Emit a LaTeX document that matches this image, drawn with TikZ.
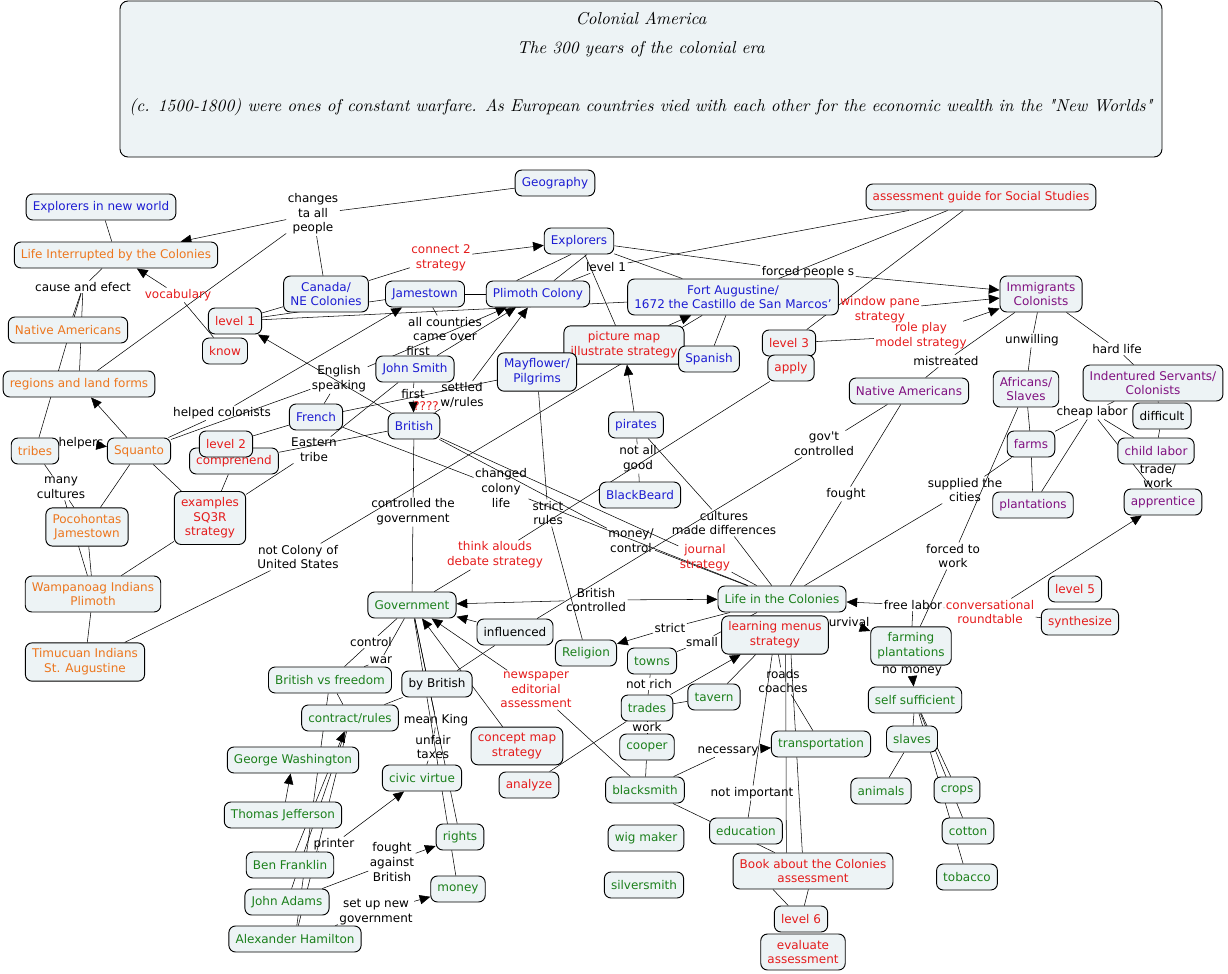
\documentclass[tikz,border=0pt]{standalone}
\usepackage{fontspec}
\newfontfamily\mapfont{DejaVu Sans}
\newfontfamily\titlefont{lmroman10-italic.otf}
\usetikzlibrary{arrows.meta,backgrounds}

\definecolor{boxfill}{RGB}{237,243,245}
\definecolor{cblue}{RGB}{28,28,210}
\definecolor{corange}{RGB}{236,118,30}
\definecolor{cred}{RGB}{228,28,28}
\definecolor{cgreen}{RGB}{28,128,28}
\definecolor{cpurple}{RGB}{128,16,128}

\tikzset{
  concept/.style={draw, line width=0.7pt, rounded corners=5pt, fill=boxfill,
    font=\mapfont\fontsize{9}{11}\selectfont, align=center,
    inner xsep=5pt, inner ysep=4.5pt, minimum height=19.5pt},
  bluebox/.style={concept, text=cblue},
  orangebox/.style={concept, text=corange},
  redbox/.style={concept, text=cred},
  greenbox/.style={concept, text=cgreen},
  purplebox/.style={concept, text=cpurple},
  plainbox/.style={concept},
  linklabel/.style={font=\mapfont\fontsize{9}{11}\selectfont, align=center, inner sep=1pt},
  redlabel/.style={linklabel, text=cred},
  titlebox/.style={draw, line width=0.7pt, rounded corners=6pt, fill=boxfill,
    minimum width=781.5pt, minimum height=117pt},
  titletext/.style={font=\titlefont\fontsize{12.9}{21.75}\selectfont, align=center, inner sep=0pt},
  arr/.style={-{Triangle[length=8pt,width=7pt]}},
}

\begin{document}
\begin{tikzpicture}[x=0.75pt,y=-0.75pt]
\useasboundingbox (0,0) rectangle (1228,974);

% title
\node[titlebox] (title) at (641,79) {};
\node[titletext] (titletxt) at (641,64) {Colonial America\\The 300 years of the colonial era\\[21.75pt](c. 1500-1800) were ones of constant warfare. As European countries vied with each other for the economic wealth in the "New Worlds"};

% linking phrases
\node[linklabel] (lchanges) at (313,214) {changes\\ta all\\people};
\node[redlabel] (lconnect) at (441,258) {connect 2\\strategy};
\node[linklabel] (lcause) at (83,287) {cause and efect};
\node[redlabel] (lvocab) at (178,295) {vocabulary};
\node[linklabel] (llevelone) at (606,267) {level 1};
\node[linklabel] (lforced) at (808,272) {forced people s};
\node[redlabel] (lwindow) at (880,310) {window pane\\strategy};
\node[redlabel] (lrole) at (921,336) {role play\\model strategy};
\node[linklabel] (lallc) at (445,329) {all countries\\came over};
\node[linklabel] (lfirsta) at (418,351) {first};
\node[linklabel] (lenglish) at (339,379) {English\\speaking};
\node[linklabel] (lhelped) at (222,413) {helped colonists};
\node[linklabel] (lfirstb) at (413,394) {first};
\node[linklabel] (lsettled) at (462,395) {settled\\w/rules};
\node[redlabel] (lquery) at (426,406) {????};
\node[linklabel] (lmistreat) at (946,361) {mistreated};
\node[linklabel] (lunwill) at (1032,340) {unwilling};
\node[linklabel] (lhard) at (1117,349) {hard life};
\node[linklabel] (lcheap) at (1092,412) {cheap labor};
\node[linklabel] (ltrade) at (1158,476) {trade/\\work};
\node[linklabel] (lsupplied) at (965,490) {supplied the\\cities};
\node[linklabel] (lforcedw) at (953,556) {forced to\\work};
\node[linklabel] (lhelpers) at (81,443) {helpers};
\node[linklabel] (leastern) at (314,450) {Eastern\\tribe};
\node[linklabel] (lmany) at (61,488) {many\\cultures};
\node[linklabel] (lgov) at (824,444) {gov't\\controlled};
\node[linklabel] (lnotall) at (638,459) {not all\\good};
\node[linklabel] (lchanged) at (501,488) {changed\\colony\\life};
\node[linklabel] (lstrict) at (548,513) {strict\\rules};
\node[linklabel] (lcontrolled) at (413,512) {controlled the\\government};
\node[linklabel] (lfought) at (846,494) {fought};
\node[linklabel] (lcultures) at (724,523) {cultures\\made differences};
\node[linklabel] (lmoneyc) at (631,541) {money/\\control};
\node[linklabel] (lnotcol) at (298,557) {not Colony of\\United States};
\node[redlabel] (lthink) at (495,555) {think alouds\\debate strategy};
\node[redlabel] (ljournal) at (705,558) {journal\\strategy};
\node[linklabel] (lbritc) at (596,600) {British\\controlled};
\node[linklabel] (lfree) at (913,605) {free labor};
\node[redlabel] (lconv) at (990,612) {conversational\\roundtable};
\node[linklabel] (lsurvival) at (846,622) {survival};
\node[linklabel] (lstrictb) at (670,628) {strict};
\node[linklabel] (lsmall) at (702,642) {small};
\node[linklabel] (lcontrol) at (371,642) {control};
\node[linklabel] (lwar) at (381,660) {war};
\node[redlabel] (lnews) at (536,690) {newspaper\\editorial\\assessment};
\node[linklabel] (lnomoney) at (912,671) {no money};
\node[linklabel] (lnotrich) at (649,684) {not rich};
\node[linklabel] (lroads) at (783,681) {roads\\coaches};
\node[linklabel] (lmeanking) at (436,720) {mean King};
\node[linklabel] (lunfair) at (433,747) {unfair\\taxes};
\node[linklabel] (lwork) at (647,727) {work};
\node[linklabel] (lnecessary) at (728,751) {necessary};
\node[linklabel] (lnotimp) at (752,793) {not important};
\node[linklabel] (lprinter) at (334,844) {printer};
\node[linklabel] (lfoughtb) at (392,862) {fought\\against\\British};
\node[linklabel] (lsetup) at (376,912) {set up new\\government};

% concepts
\node[bluebox] (geo) at (555,183) {Geography};
\node[bluebox] (expnw) at (101,207) {Explorers in new world};
\node[orangebox] (lifeint) at (116,255) {Life Interrupted by the Colonies};
\node[redbox] (assess) at (981,197) {assessment guide for Social Studies};
\node[bluebox] (explorers) at (579,241) {Explorers};
\node[bluebox] (canada) at (326,294) {Canada/\\NE Colonies};
\node[bluebox] (jamestown) at (425,294) {Jamestown};
\node[bluebox] (plimoth) at (538,294) {Plimoth Colony};
\node[bluebox] (fort) at (733,297) {Fort Augustine/\\1672 the Castillo de San Marcos’};
\node[purplebox] (immig) at (1041,294) {Immigrants\\Colonists};
\node[redbox] (lvlone) at (235,321) {level 1};
\node[redbox] (know) at (225,351) {know};
\node[orangebox] (natam) at (68,330) {Native Americans};
\node[orangebox] (regions) at (79,384) {regions and land forms};
\node[redbox] (picmap) at (624,345) {picture map\\illustrate strategy};
\node[bluebox] (spanish) at (709,359) {Spanish};
\node[redbox] (lvlthree) at (789,343) {level 3};
\node[redbox] (apply) at (791,368) {apply};
\node[bluebox] (smith) at (415,369) {John Smith};
\node[bluebox] (mayflower) at (537,372) {Mayflower/\\Pilgrims};
\node[purplebox] (natamp) at (909,391) {Native Americans};
\node[purplebox] (africans) at (1026,389) {Africans/\\Slaves};
\node[purplebox] (indent) at (1153,383) {Indentured Servants/\\Colonists};
\node[bluebox] (french) at (316,417) {French};
\node[bluebox] (british) at (414,426) {British};
\node[bluebox] (pirates) at (636,425) {pirates};
\node[plainbox] (difficult) at (1162,416) {difficult};
\node[orangebox] (tribes) at (35,451) {tribes};
\node[orangebox] (squanto) at (139,451) {Squanto};
\node[redbox] (comprehend) at (234,461) {comprehend};
\node[redbox] (lvltwo) at (226,444) {level 2};
\node[purplebox] (farms) at (1031,444) {farms};
\node[purplebox] (childlab) at (1156,451) {child labor};
\node[bluebox] (blackbeard) at (640,495) {BlackBeard};
\node[purplebox] (plantations) at (1033,505) {plantations};
\node[purplebox] (apprentice) at (1163,502) {apprentice};
\node[redbox] (sqthree) at (210,518) {examples\\SQ3R\\strategy};
\node[orangebox] (pocohontas) at (87,527) {Pocohontas\\Jamestown};
\node[orangebox] (wampanoag) at (93,594) {Wampanoag Indians\\Plimoth};
\node[orangebox] (timucuan) at (85,662) {Timucuan Indians\\St. Augustine};
\node[greenbox] (govt) at (412,605) {Government};
\node[greenbox] (lifecol) at (782,599) {Life in the Colonies};
\node[redbox] (lvlfive) at (1075,589) {level 5};
\node[redbox] (synth) at (1080,622) {synthesize};
\node[plainbox] (influenced) at (515,632) {influenced};
\node[greenbox] (religion) at (586,653) {Religion};
\node[redbox] (menus) at (775,635) {learning menus\\strategy};
\node[greenbox] (farming) at (911,646) {farming\\plantations};
\node[greenbox] (towns) at (652,661) {towns};
\node[greenbox] (bvf) at (330,680) {British vs freedom};
\node[plainbox] (bybrit) at (437,684) {by British};
\node[greenbox] (selfsuff) at (915,700) {self sufficient};
\node[greenbox] (tavern) at (714,697) {tavern};
\node[greenbox] (trades) at (647,708) {trades};
\node[greenbox] (contract) at (350,718) {contract/rules};
\node[redbox] (conceptmap) at (517,746) {concept map\\strategy};
\node[greenbox] (slaves) at (912,739) {slaves};
\node[greenbox] (cooper) at (647,747) {cooper};
\node[greenbox] (transport) at (821,744) {transportation};
\node[greenbox] (washington) at (293,760) {George Washington};
\node[greenbox] (civic) at (422,778) {civic virtue};
\node[redbox] (analyze) at (529,785) {analyze};
\node[greenbox] (blacksmith) at (645,790) {blacksmith};
\node[greenbox] (animals) at (881,791) {animals};
\node[greenbox] (crops) at (957,790) {crops};
\node[greenbox] (jefferson) at (283,815) {Thomas Jefferson};
\node[greenbox] (rights) at (460,837) {rights};
\node[greenbox] (education) at (746,831) {education};
\node[greenbox] (cotton) at (968,831) {cotton};
\node[greenbox] (wigmaker) at (646,838) {wig maker};
\node[greenbox] (franklin) at (290,865) {Ben Franklin};
\node[redbox] (book) at (813,871) {Book about the Colonies\\assessment};
\node[greenbox] (tobacco) at (967,877) {tobacco};
\node[greenbox] (money) at (458,889) {money};
\node[greenbox] (silversmith) at (644,885) {silversmith};
\node[greenbox] (adams) at (287,902) {John Adams};
\node[redbox] (lvlsix) at (801,919) {level 6};
\node[greenbox] (hamilton) at (295,939) {Alexander Hamilton};
\node[redbox] (evaluate) at (803,952) {evaluate\\assessment};

% connectors
\begin{scope}[on background layer, line width=0.6pt]
\draw (geo) -- (lchanges);
\draw[arr] (lchanges) -- (lifeint);
\draw (lchanges) -- (canada);
\draw (regions) -- (lchanges);
\draw (expnw) -- (lifeint);
\draw (lifeint) -- (lcause);
\draw (lcause) -- (natam);
\draw (lcause) -- (regions);
\draw (lcause) -- (tribes);
\draw[arr] (lvocab) -- (lifeint);
\draw (know) -- (lvocab);
\draw[arr] (british) -- (lvlone);
\draw (canada) -- (lconnect);
\draw[arr] (lconnect) -- (explorers);
\draw (lvlone) -- (canada);
\draw (lvlone) -- (jamestown);
\draw (lvlone) -- (fort);
\draw ([xshift=-6]explorers.south) -- ([xshift=-16]plimoth.north);
\draw ([xshift=6]explorers.south) -- ([xshift=12]plimoth.north);
\draw (explorers) -- (picmap);
\draw (explorers) -- (lforced);
\draw[arr] (lforced) -- (immig);
\draw (explorers) -- (fort);
\draw (plimoth) -- (llevelone);
\draw (llevelone) -- (assess);
\draw (assess) -- (fort);
\draw (assess) -- (lvlthree);
\draw[arr] (lwindow) -- (immig);
\draw (lvlthree) -- (lrole);
\draw[arr] (lrole) -- (immig);
\draw (immig) -- (lmistreat) -- (natamp);
\draw (immig) -- (lunwill) -- (africans);
\draw (immig) -- (lhard) -- (indent);
\draw (indent) -- (difficult) -- (childlab);
\draw (indent) -- (lcheap);
\draw (lcheap) -- (farms);
\draw (lcheap) -- (childlab);
\draw (lcheap) -- (plantations);
\draw (lcheap) -- (apprentice);
\draw (africans) -- (farms) -- (plantations);
\draw (farms) -- (lsupplied) -- (lifecol);
\draw (africans) -- (lforcedw) -- (farming);
\draw (childlab) -- (ltrade) -- (apprentice);
\draw (natamp) -- (lgov) -- (influenced);
\draw (natamp) -- (lfought) -- (lifecol);
\draw (apply) -- (lthink) -- (govt);
\draw (fort) -- (spanish);
\draw[arr] (pirates) -- (picmap);
\draw (mayflower) -- (picmap);
\draw[arr] (picmap) -- (fort);
\draw (timucuan) -- (lnotcol) -- (fort);
\draw (pirates) -- (lcultures) -- (lifecol);
\draw (pirates) -- (lnotall) -- (blackbeard);
\draw (british) -- (ljournal) -- (lifecol);
\draw (british) -- (lmoneyc) -- (lifecol);
\draw (french) -- (lchanged) -- (lifecol);
\draw (mayflower) -- (lstrict) -- (religion);
\draw (british) -- (lcontrolled) -- (govt);
\draw[arr] (lbritc) -- (govt);
\draw[arr] (lbritc) -- (lifecol);
\draw[arr] (influenced) -- (govt);
\draw[arr] (lnews) -- (govt);
\draw[arr] (conceptmap) -- (govt);
\draw (lnews) -- (blacksmith);
\draw (govt) -- (lcontrol) -- (bvf);
\draw (govt) -- (lwar) -- (bvf);
\draw (bvf) -- (contract);
\draw (bvf) -- (hamilton);
\draw (contract) -- (adams);
\draw (contract) -- (hamilton);
\draw[arr] (jefferson) -- (washington);
\draw[arr] (franklin) -- (contract);
\draw (influenced) -- (bybrit) -- (contract);
\draw (govt) -- (lmeanking) -- (lunfair) -- (civic);
\draw (govt) -- (rights);
\draw (govt) -- (money);
\draw (franklin) -- (lprinter);
\draw[arr] (lprinter) -- (civic);
\draw (adams) -- (lfoughtb);
\draw[arr] (lfoughtb) -- (rights);
\draw (hamilton) -- (lsetup);
\draw[arr] (lsetup) -- (money);
\draw (lifecol) -- (lstrictb);
\draw[arr] (lstrictb) -- (religion);
\draw (lifecol) -- (lsmall) -- (towns);
\draw (towns) -- (lnotrich) -- (trades);
\draw[arr] (trades) -- (menus);
\draw (tavern) -- (menus);
\draw (trades) -- (tavern);
\draw (trades) -- (lwork) -- (cooper);
\draw (trades) -- (analyze);
\draw (cooper) -- (blacksmith);
\draw (blacksmith) -- (lnecessary);
\draw[arr] (lnecessary) -- (transport);
\draw (menus) -- (lnotimp) -- (education);
\draw (menus) -- (lroads) -- (transport);
\draw ([xshift=8]menus.south) -- ([xshift=-20]book.north);
\draw ([xshift=12]menus.south) -- ([xshift=-8]book.north);
\draw (blacksmith) -- (book);
\draw ([xshift=-30]book.south) -- (lvlsix);
\draw (book) -- (lvlsix);
\draw (menus) -- (lsurvival);
\draw[arr] (lsurvival) -- (farming);
\draw (farming) -- (lfree);
\draw[arr] (lfree) -- (lifecol);
\draw (lconv) -- (lfree);
\draw[arr] (lconv) -- (apprentice);
\draw (lconv) -- (synth);
\draw (farming) -- (lnomoney);
\draw[arr] (lnomoney) -- (selfsuff);
\draw (selfsuff) -- (slaves) -- (animals);
\draw (selfsuff) -- (crops);
\draw (selfsuff) -- (cotton);
\draw (selfsuff) -- (tobacco);
\draw (tribes) -- (lhelpers);
\draw[arr] (lhelpers) -- (squanto);
\draw[arr] (squanto) -- (regions);
\draw (tribes) -- (lmany) -- (pocohontas);
\draw (lmany) -- (wampanoag);
\draw (pocohontas) -- (squanto);
\draw (pocohontas) -- (wampanoag) -- (timucuan);
\draw (wampanoag) -- (sqthree);
\draw (squanto) -- (sqthree);
\draw (comprehend) -- (sqthree);
\draw (sqthree) -- (leastern) -- (smith);
\draw (comprehend) -- (british);
\draw (lvltwo) -- (french);
\draw (squanto) -- (lhelped);
\draw[arr] (lhelped) -- (jamestown);
\draw (squanto) -- (lenglish);
\draw[arr] (lenglish) -- (plimoth);
\draw (french) -- (lenglish);
\draw (jamestown) -- (lallc);
\draw (lfirsta) -- (smith);
\draw (jamestown) -- (plimoth);
\draw (smith) -- (lfirstb);
\draw[arr] (lfirstb) -- (british);
\draw[arr] (smith) -- (plimoth);
\draw (french) -- (mayflower);
\draw (british) -- (lsettled);
\draw[arr] (lsettled) -- (plimoth);
\end{scope}
\end{tikzpicture}
\end{document}
